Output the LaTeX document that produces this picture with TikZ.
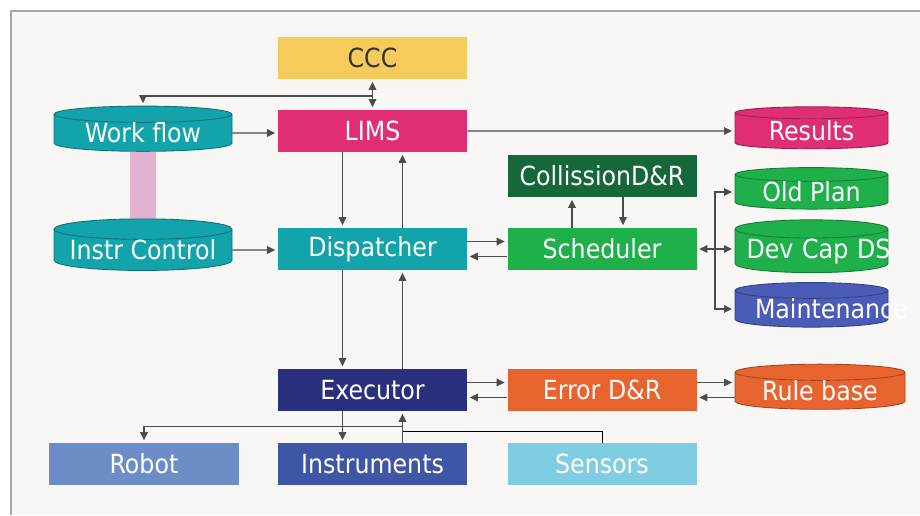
\documentclass[tikz,border=0pt]{standalone}
\usepackage{fontspec}
\setmainfont{DejaVu Sans Condensed}
\usetikzlibrary{shapes.geometric,arrows.meta,calc}
\definecolor{bgPanel}{HTML}{F8F7F5}
\definecolor{cccYellow}{HTML}{F5CC5C}
\definecolor{limsMagenta}{HTML}{DF2F72}
\definecolor{flowTeal}{HTML}{13A3AA}
\definecolor{barPink}{HTML}{E2B2D0}
\definecolor{collDark}{HTML}{16683A}
\definecolor{schedGreen}{HTML}{20B04B}
\definecolor{maintBlue}{HTML}{4A5CB5}
\definecolor{execNavy}{HTML}{2B307E}
\definecolor{errOrange}{HTML}{E8642E}
\definecolor{robotBlue}{HTML}{6C8DC8}
\definecolor{instrBlue}{HTML}{3F56A6}
\definecolor{sensCyan}{HTML}{7FCDE2}
\tikzset{
    sysbox/.style={rectangle, fill=#1, minimum width=3.78cm, minimum height=0.84cm, inner sep=0pt, text=white, font=\fontsize{15}{18}\selectfont},
    dbcyl/.style={cylinder, shape border rotate=90, aspect=0.14, draw=#1!70!black, line width=0.5pt, cylinder uses custom fill, cylinder body fill=#1, cylinder end fill=#1, minimum height=0.84cm, inner sep=0pt, text=white, font=\fontsize{15}{18}\selectfont},
    link/.style={-{Triangle[length=1.6mm, width=1.5mm]}, line width=0.8pt, draw=black!70, shorten >=0.5mm},
    duallink/.style={{Triangle[length=1.6mm, width=1.5mm]}-{Triangle[length=1.6mm, width=1.5mm]}, line width=0.8pt, draw=black!70, shorten >=0.5mm, shorten <=0.5mm}
}
\begin{document}
\begin{tikzpicture}
    \useasboundingbox (0,0) rectangle (18.4,10.3);
    \fill[white] (0,0) rectangle (18.4,10.3);
    \fill[bgPanel] (0.22,0) rectangle (18.4,10.08);
    \draw[black!35, line width=1.2pt] (0.22,0) -- (0.22,10.08) -- (18.4,10.08);
    % middle column
    \node[sysbox=cccYellow, text=black!80] (ccc) at (7.45,9.14) {CCC};
    \node[sysbox=limsMagenta] (lims) at (7.45,7.68) {LIMS};
    \node[sysbox=flowTeal] (disp) at (7.45,5.32) {Dispatcher};
    \node[sysbox=execNavy] (exec) at (7.45,2.50) {Executor};
    \node[sysbox=instrBlue] (instr) at (7.45,1.02) {Instruments};
    % left column
    \node[dbcyl=flowTeal, minimum width=3.56cm] (wf) at (2.86,7.64) {Work flow};
    \node[dbcyl=flowTeal, minimum width=3.56cm] (ictl) at (2.86,5.30) {Instr Control};
    \node[sysbox=robotBlue, minimum width=3.8cm] (robot) at (2.88,1.02) {Robot};
    % right columns
    \node[sysbox=collDark] (coll) at (12.04,6.78) {CollissionD\&R};
    \node[sysbox=schedGreen] (sched) at (12.04,5.32) {Scheduler};
    \node[sysbox=errOrange] (err) at (12.04,2.50) {Error D\&R};
    \node[sysbox=sensCyan] (sens) at (12.04,1.02) {Sensors};
    \node[dbcyl=limsMagenta, minimum width=3.06cm] (res) at (16.23,7.68) {Results};
    \node[dbcyl=schedGreen, minimum width=3.06cm, minimum height=0.8cm] (oldp) at (16.23,6.46) {Old Plan};
    \node[dbcyl=schedGreen, minimum width=3.06cm, minimum height=0.8cm, text width=2.6cm, align=center] (devc) at (16.23,5.28) {\mbox{Dev Cap DS}};
    \node[dbcyl=maintBlue, minimum width=3.06cm, minimum height=0.8cm, text width=2.26cm, align=center] (maint) at (16.23,4.12) {Maintenance};
    \node[dbcyl=errOrange, minimum width=3.4cm] (rule) at (16.4,2.48) {Rule base};
    % connectors
    \draw[barPink, line width=0.52cm] (wf.south) -- (ictl.north);
    \draw[duallink] (ccc) -- (lims);
    \coordinate (wfj) at ($(ccc.south)!0.55!(lims.north)$);
    \draw[link] (wfj) -| (wf.north);
    \draw[link] (wf) -- (wf -| lims.west);
    \draw[link] (lims) -- (res);
    \draw[link] ([xshift=-0.6cm]lims.south) -- ([xshift=-0.6cm]disp.north);
    \draw[link] ([xshift=0.6cm]disp.north) -- ([xshift=0.6cm]lims.south);
    \draw[link] (ictl) -- (ictl -| disp.west);
    \draw[link] ([yshift=0.15cm]disp.east) -- ([yshift=0.15cm]sched.west);
    \draw[link] ([yshift=-0.15cm]sched.west) -- ([yshift=-0.15cm]disp.east);
    \draw[link] ([xshift=-0.6cm]sched.north) -- ([xshift=-0.6cm]coll.south);
    \draw[link] ([xshift=0.42cm]coll.south) -- ([xshift=0.42cm]sched.north);
    \coordinate (bus) at ($(sched.east)+(0.36,0)$);
    \draw[link] (bus) -- (sched.east);
    \draw[link] (bus) |- (oldp.west);
    \draw[link] (bus) -- (bus -| devc.west);
    \draw[link] (bus) |- (maint.west);
    \draw[link] ([xshift=-0.6cm]disp.south) -- ([xshift=-0.6cm]exec.north);
    \draw[link] ([xshift=0.6cm]exec.north) -- ([xshift=0.6cm]disp.south);
    \draw[link] ([yshift=0.15cm]exec.east) -- ([yshift=0.15cm]err.west);
    \draw[link] ([yshift=-0.15cm]err.west) -- ([yshift=-0.15cm]exec.east);
    \draw[link] ([yshift=0.15cm]err.east) -- ([yshift=0.15cm]err.east -| rule.west);
    \draw[link] ([yshift=-0.15cm]err.east -| rule.west) -- ([yshift=-0.15cm]err.east);
    \draw[link] ([xshift=-0.6cm]exec.south) -- ([xshift=-0.6cm]instr.north);
    \draw[link] ([xshift=0.6cm]instr.north) -- ([xshift=0.6cm]exec.south);
    \coordinate (robj) at ($(exec.south)+(0.6,-0.3)$);
    \coordinate (sensj) at ($(exec.south)+(0.6,-0.4)$);
    \draw[link] (robj) -| (robot.north);
    \draw (sens.north) |- (sensj);
\end{tikzpicture}
\end{document}
